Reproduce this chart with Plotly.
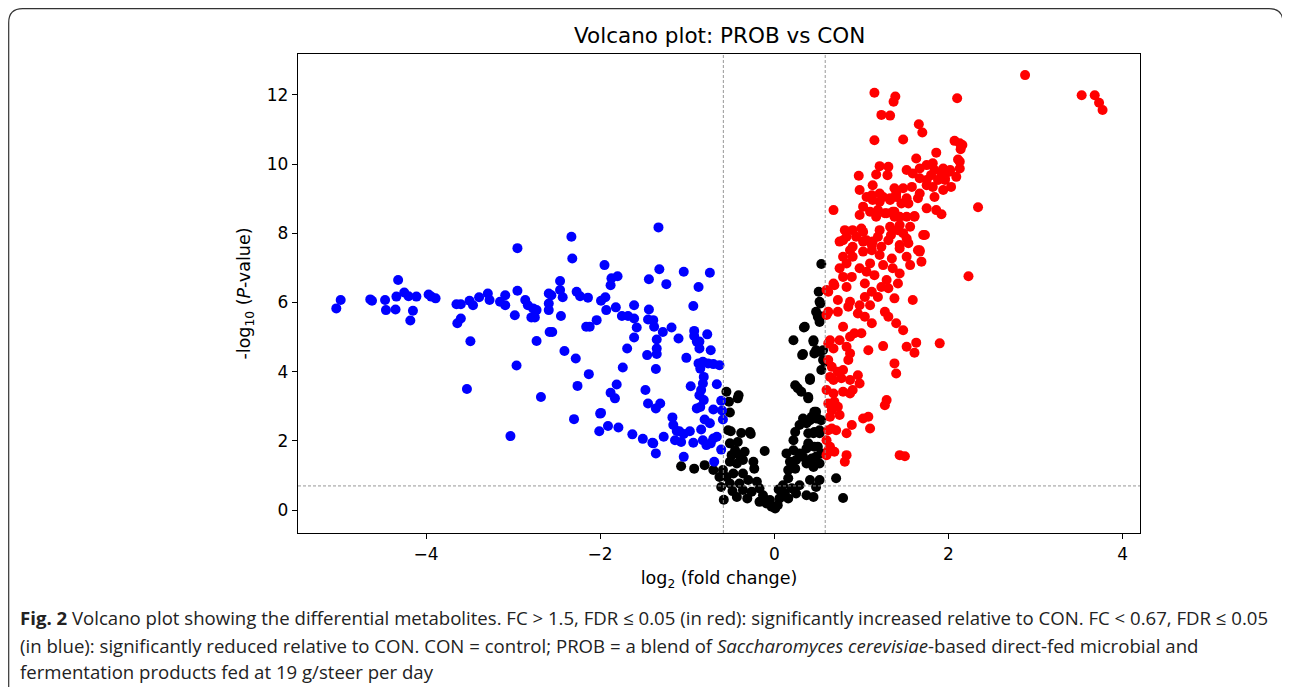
import plotly.graph_objects as go

# ---------------- data (log2 fold change, -log10 P) ----------------
down_points = [
    (-4.98, 6.07), (-5.03, 5.83), (-4.64, 6.09), (-4.62, 6.05), (-4.47, 6.07), (-4.46, 5.78),
    (-4.35, 5.80), (-4.34, 6.17), (-4.32, 6.65), (-4.25, 6.29), (-4.20, 6.18), (-4.11, 6.17),
    (-4.15, 5.76), (-4.18, 5.48), (-3.97, 6.23), (-3.94, 6.17), (-3.89, 6.12), (-3.65, 5.95),
    (-3.60, 5.95), (-3.60, 5.54), (-3.64, 5.40), (-3.50, 6.05), (-3.46, 5.92), (-3.39, 6.15),
    (-3.29, 6.26), (-3.27, 6.07), (-3.49, 4.88), (-3.53, 3.50), (-3.15, 6.02), (-3.09, 6.21),
    (-3.09, 5.92), (-2.95, 6.34), (-2.98, 5.63), (-2.96, 4.18), (-3.03, 2.14), (-2.95, 7.57),
    (-2.86, 6.07), (-2.83, 5.92), (-2.77, 5.83), (-2.73, 5.78), (-2.79, 5.57), (-2.75, 5.57),
    (-2.73, 4.89), (-2.68, 3.27), (-2.59, 6.26), (-2.59, 5.78), (-2.58, 5.15),
    (-2.33, 7.90), (-1.33, 8.17), (-2.32, 7.27), (-1.95, 7.08), (-1.32, 6.96), (-1.04, 6.89),
    (-0.74, 6.86), (-1.87, 6.70), (-1.80, 6.76), (-1.88, 6.50), (-1.44, 6.67), (-1.24, 6.53),
    (-0.87, 6.45), (-2.46, 6.62), (-2.46, 6.36), (-2.56, 6.21), (-2.43, 6.15), (-2.59, 5.97),
    (-2.45, 5.61), (-2.55, 5.15), (-2.27, 6.31), (-2.23, 6.18), (-2.14, 6.14), (-1.99, 6.05),
    (-1.94, 6.15), (-1.93, 5.78), (-1.82, 5.86), (-1.75, 5.61), (-1.68, 5.61), (-1.61, 5.92),
    (-1.61, 5.54), (-1.58, 5.28), (-1.61, 4.99), (-1.44, 5.80), (-1.45, 5.51), (-1.39, 5.49),
    (-1.38, 5.30), (-1.28, 5.15), (-1.18, 5.28), (-1.10, 4.96), (-1.35, 4.93), (-1.35, 4.67),
    (-1.35, 4.51), (-1.46, 4.48), (-1.36, 4.08), (-2.04, 5.49), (-2.16, 5.30), (-2.12, 5.30),
    (-1.69, 4.67), (-1.74, 4.12), (-2.41, 4.60), (-2.28, 4.38), (-2.13, 3.93), (-2.26, 3.59),
    (-1.81, 3.63), (-1.88, 3.39), (-1.83, 3.23), (-1.48, 3.47), (-1.45, 3.08), (-1.31, 3.08),
    (-1.36, 2.94), (-1.99, 2.81), (-2.00, 2.79), (-2.30, 2.63), (-1.91, 2.43), (-1.79, 2.39),
    (-2.01, 2.28), (-1.63, 2.19), (-1.51, 2.06), (-1.40, 1.95), (-1.39, 1.93), (-1.36, 1.64),
    (-1.27, 2.12), (-1.17, 2.68), (-1.16, 2.46), (-1.12, 2.29), (-1.09, 2.28), (-1.04, 2.20),
    (-1.14, 2.02), (-1.07, 1.97), (-1.04, 1.54), (-0.97, 2.28), (-0.96, 3.58), (-1.01, 4.40),
    (-0.93, 5.90), (-0.92, 5.18), (-0.92, 5.03), (-0.89, 4.87), (-0.86, 4.67), (-0.86, 4.87),
    (-0.77, 5.08), (-0.73, 4.62), (-0.87, 4.24), (-0.82, 4.29), (-0.76, 4.24), (-0.70, 4.22),
    (-0.63, 4.19), (-0.85, 4.09), (-0.81, 3.85), (-0.82, 3.66), (-0.66, 3.64), (-0.84, 3.47),
    (-0.86, 3.32), (-0.81, 3.18), (-0.89, 2.94), (-0.85, 2.98), (-0.70, 2.91), (-0.61, 3.16),
    (-0.60, 2.88), (-0.59, 2.62), (-0.80, 2.62), (-0.74, 2.51), (-0.84, 2.33), (-0.66, 2.12),
    (-0.93, 1.95), (-0.82, 2.02), (-0.78, 1.88), (-0.73, 1.93), (-0.70, 2.07), (-0.61, 1.75),
    (-0.69, 1.40),
]

ns_points = [
    (-1.07, 1.27), (-0.92, 1.20), (-0.80, 1.30), (-0.70, 1.16),
    (-0.55, 3.42), (-0.41, 3.32), (-0.42, 3.23), (-0.52, 3.13), (-0.51, 2.82), (-0.53, 2.31),
    (-0.50, 2.28), (-0.38, 2.23), (-0.28, 2.26), (-0.27, 2.20), (-0.51, 1.93), (-0.42, 1.97),
    (-0.45, 1.73), (-0.49, 1.59), (-0.40, 1.59), (-0.34, 1.69), (-0.51, 1.40), (-0.43, 1.35),
    (-0.36, 1.45), (-0.24, 1.40), (-0.23, 1.20), (-0.11, 1.71), (-0.59, 1.16), (-0.63, 0.96),
    (-0.55, 0.96), (-0.47, 1.06), (-0.36, 1.06), (-0.61, 0.67), (-0.51, 0.77), (-0.40, 0.77),
    (-0.30, 0.87), (-0.20, 0.82), (-0.43, 0.38), (-0.31, 0.34), (-0.36, 0.58), (-0.26, 0.53),
    (-0.17, 0.63), (-0.13, 0.43), (-0.17, 0.24), (-0.09, 0.19), (-0.03, 0.10), (0.01, 0.05),
    (0.04, 0.14), (-0.05, 0.29), (0.06, 0.34), (0.12, 0.48), (0.16, 0.34), (0.10, 0.72),
    (0.20, 0.63), (0.25, 0.48), (0.29, 0.72), (0.37, 0.43), (0.45, 0.38), (0.48, 0.67),
    (0.41, 0.87), (0.52, 0.87), (0.16, 0.92), (0.16, 1.16), (0.24, 1.20), (0.18, 1.40),
    (0.25, 1.45), (0.14, 1.64), (0.22, 1.73), (0.29, 1.64), (0.37, 1.35), (0.45, 1.25),
    (0.48, 1.54), (0.37, 1.78), (0.46, 1.83), (0.22, 2.02), (0.24, 2.26), (0.29, 2.46),
    (0.37, 2.51), (0.39, 2.22), (0.46, 2.26), (0.52, 2.22), (0.48, 2.65), (0.43, 2.70),
    (0.48, 2.84), (0.54, 2.60), (0.39, 3.27), (0.24, 3.61), (0.27, 3.52), (0.41, 3.81),
    (0.45, 4.91), (0.48, 4.62), (0.56, 4.62), (0.56, 4.34), (0.32, 4.48), (0.22, 4.91),
    (0.34, 5.28), (0.50, 5.59), (0.52, 5.44), (0.48, 5.73), (0.52, 6.02), (0.51, 6.31),
    (0.54, 7.11), (0.71, 0.92), (0.79, 0.35), (0.53, 5.97), (0.53, 5.60), (0.35, 5.30),
    (0.45, 4.87), (0.33, 4.51), (0.46, 4.53), (0.52, 4.58), (0.58, 4.29), (0.54, 4.05),
    (0.41, 3.76), (0.39, 3.23), (0.31, 3.42), (0.46, 2.84), (0.33, 2.65), (0.41, 2.60),
    (0.50, 2.65), (0.45, 2.22), (0.52, 2.31), (0.39, 1.93), (0.50, 1.83), (0.54, 1.64),
    (0.33, 1.54), (0.43, 1.49), (0.52, 1.35), (-0.58, 0.30), (-0.48, 0.55), (0.05, 0.60),
]

up_points = [
    (2.88, 12.57), (2.10, 11.90), (3.53, 11.99), (3.68, 11.99), (3.73, 11.77), (3.77, 11.56),
    (2.07, 10.67), (2.13, 10.60), (2.16, 10.55), (2.14, 10.43), (2.11, 10.13), (2.13, 10.07),
    (2.13, 9.87), (2.02, 9.83), (2.09, 9.63), (1.94, 9.87), (1.92, 9.68), (1.96, 9.54),
    (1.94, 9.25), (2.03, 9.34), (2.34, 8.75), (1.92, 8.55), (2.23, 6.76),
    (1.15, 12.06), (1.39, 11.95), (1.37, 11.80), (1.23, 11.42), (1.33, 11.40), (1.66, 11.15),
    (1.70, 10.91), (1.15, 10.69), (1.48, 10.71), (1.86, 10.33), (1.63, 10.16), (1.21, 9.94),
    (1.31, 9.92), (0.97, 9.66), (1.17, 9.70), (1.30, 9.68), (1.52, 9.83), (1.59, 9.73),
    (1.67, 9.87), (1.75, 9.97), (1.82, 10.02), (1.84, 9.83), (2.01, 9.78), (1.67, 9.59),
    (1.75, 9.54), (1.80, 9.68), (1.88, 9.54), (1.96, 9.59), (1.82, 9.34), (1.75, 9.39),
    (0.98, 9.25), (1.13, 9.39), (1.21, 9.15), (1.38, 9.30), (1.48, 9.30), (1.58, 9.34),
    (1.67, 9.15), (1.84, 9.05), (0.68, 8.67), (1.06, 9.05), (1.13, 8.96), (1.25, 9.05),
    (1.33, 8.96), (1.40, 9.05), (1.46, 8.86), (1.54, 8.86), (1.75, 8.72), (1.86, 8.67),
    (1.02, 8.77), (0.98, 8.53), (1.10, 8.62), (1.19, 8.67), (1.29, 8.58), (1.38, 8.62),
    (1.38, 8.48), (1.52, 8.48), (1.61, 8.50), (0.81, 8.09), (0.90, 8.09), (1.00, 8.14),
    (0.83, 7.90), (0.94, 7.90), (1.21, 8.09), (1.33, 8.19), (1.44, 8.24), (1.56, 8.19),
    (1.19, 7.90), (1.31, 7.80), (1.48, 8.00), (1.71, 7.95), (0.75, 7.76), (0.90, 7.61),
    (1.02, 7.76), (1.13, 7.76), (1.23, 7.61), (1.44, 7.66), (1.54, 7.71), (1.67, 7.51),
    (1.12, 9.10), (1.21, 8.91), (1.33, 9.01), (1.40, 9.15), (1.52, 9.01), (1.65, 9.01),
    (1.17, 8.48), (1.27, 8.58), (1.36, 8.62), (1.44, 8.48), (1.61, 8.48), (1.73, 7.95),
    (0.79, 7.80), (1.02, 8.04), (1.06, 7.80), (1.12, 7.66), (1.34, 7.95), (1.42, 8.09),
    (1.52, 7.85), (1.65, 7.51), (0.87, 7.51), (0.79, 7.32), (0.90, 7.32), (1.02, 7.47),
    (1.12, 7.51), (1.21, 7.37), (1.35, 7.27), (1.44, 7.56), (1.52, 7.32), (1.67, 7.47),
    (1.69, 7.18), (0.75, 6.99), (0.83, 7.13), (0.79, 6.74), (0.89, 6.74), (0.98, 6.99),
    (1.06, 6.89), (1.10, 7.13), (1.15, 6.79), (1.25, 7.08), (1.29, 6.65), (1.36, 6.99),
    (1.44, 6.84), (1.42, 6.55), (1.56, 7.08), (0.69, 6.50), (0.62, 6.31), (0.83, 6.45),
    (1.04, 6.55), (1.12, 6.31), (1.23, 6.45), (1.31, 6.41), (1.04, 6.16), (1.19, 6.16),
    (1.38, 6.12), (1.59, 6.07), (0.73, 6.07), (0.87, 6.02), (0.98, 5.92), (0.73, 5.73),
    (0.85, 5.88), (1.10, 5.92), (1.27, 5.73), (1.31, 5.59), (1.40, 5.40), (1.48, 5.20),
    (0.96, 5.68), (1.04, 5.59), (1.12, 5.40), (0.60, 5.64), (0.79, 5.30), (0.62, 4.82),
    (0.68, 4.67), (0.75, 4.91), (0.87, 5.01), (0.92, 5.11), (1.00, 5.11), (0.83, 4.72),
    (0.87, 4.53), (1.08, 4.62), (1.25, 4.74), (1.52, 4.72), (1.63, 4.84), (1.61, 4.55),
    (1.90, 4.82), (0.66, 4.14), (0.73, 4.00), (0.79, 4.05), (0.85, 4.34), (0.68, 3.76),
    (0.77, 3.81), (0.87, 3.76), (0.96, 3.90), (0.98, 3.66), (1.38, 4.24), (1.40, 3.95),
    (0.60, 3.47), (0.68, 3.37), (0.79, 3.42), (0.87, 3.37), (0.90, 3.47), (0.69, 3.13),
    (0.73, 2.99), (0.66, 2.89), (0.75, 2.75), (1.29, 3.18), (1.27, 3.03), (1.02, 2.65),
    (1.08, 2.70), (1.10, 2.36), (0.89, 2.46), (0.83, 2.22), (0.66, 2.36), (0.71, 2.31),
    (0.60, 2.02), (0.64, 1.83), (0.69, 1.69), (0.83, 1.59), (0.81, 1.40), (1.44, 1.59),
    (1.50, 1.56), (0.60, 1.59), (0.60, 6.36), (0.68, 6.55), (0.62, 5.73), (0.64, 4.91),
    (0.62, 4.34), (0.64, 3.85), (0.62, 3.08), (0.64, 2.70), (0.62, 2.31), (0.62, 1.73),
]

FC_UP = 0.585      # log2(1.5)
FC_DOWN = -0.585   # log2(0.67)
P_LINE = 0.7

caption_lines = [
    "<b>Fig. 2</b> Volcano plot showing the differential metabolites. FC > 1.5, FDR ≤ 0.05 (in red): significantly increased relative to CON. FC < 0.67, FDR ≤ 0.05",
    "(in blue): significantly reduced relative to CON. CON = control; PROB = a blend of <i>Saccharomyces cerevisiae</i>-based direct-fed microbial and",
    "fermentation products fed at 19 g/steer per day",
]

# ---------------- figure ----------------
# the page body has an 8px margin, so the figure is drawn 8px in from the corner
OFF = 8
W, H = 1290 - OFF, 687 - OFF
L, R, T, B = 298 - OFF, 1140 - OFF, 54 - OFF, 533 - OFF   # plot area in figure pixels
pw, ph = R - L, B - T


def px(xp):
    return (xp - OFF - L) / pw


def py(yp):
    return (B - (yp - OFF)) / ph


fig = go.Figure()
for pts, col in [(ns_points, "black"), (down_points, "blue"), (up_points, "red")]:
    fig.add_trace(go.Scatter(
        x=[p[0] for p in pts], y=[p[1] for p in pts], mode="markers",
        marker=dict(color=col, size=10, line=dict(width=0)),
        showlegend=False, hoverinfo="x+y",
    ))

dash = dict(color="#8c8c8c", width=0.9, dash="3px,2px")
fig.add_shape(type="line", xref="x", yref="paper", x0=FC_DOWN, x1=FC_DOWN, y0=0, y1=1, line=dash)
fig.add_shape(type="line", xref="x", yref="paper", x0=FC_UP, x1=FC_UP, y0=0, y1=1, line=dash)
fig.add_shape(type="line", xref="paper", yref="y", x0=0, x1=1, y0=P_LINE, y1=P_LINE, line=dash)

# outer rounded frame
x0, x1 = px(8.7), px(1283)
y1, y0 = py(8.7), py(720)
rx, ry = 14 / pw, 14 / ph
path = (f"M {x0+rx},{y1} L {x1-rx},{y1} Q {x1},{y1} {x1},{y1-ry} L {x1},{y0} "
        f"L {x0},{y0} L {x0},{y1-ry} Q {x0},{y1} {x0+rx},{y1} Z")
fig.add_shape(type="path", xref="paper", yref="paper", path=path,
              line=dict(color="#333333", width=1.2), fillcolor="rgba(0,0,0,0)")

# title
fig.add_annotation(text="Volcano plot: PROB vs CON", xref="paper", yref="paper",
                   x=0.5, y=py(35), xanchor="center", yanchor="middle", showarrow=False,
                   font=dict(family="DejaVu Sans", size=21.5, color="black"))

# caption
cap_y = [617, 645, 671]
for line, yy in zip(caption_lines, cap_y):
    fig.add_annotation(text=line, xref="paper", yref="paper", x=px(18), y=py(yy),
                       xanchor="left", yanchor="middle", showarrow=False,
                       font=dict(family="Open Sans, sans-serif", size=18.6, color="#222222"))

axis_common = dict(showline=True, linecolor="black", linewidth=1.3, mirror=True,
                   ticks="outside", ticklen=5, tickwidth=1.2, tickcolor="black",
                   showgrid=False, zeroline=False,
                   tickfont=dict(family="DejaVu Sans", size=17, color="black"))

fig.update_xaxes(range=[-5.47, 4.2], tickvals=[-4, -2, 0, 2, 4],
                 ticktext=["−4", "−2", "0", "2", "4"],
                 title=dict(text="log<sub>2</sub> (fold change)", standoff=9,
                            font=dict(family="DejaVu Sans", size=17.5, color="black")),
                 **axis_common)
fig.update_yaxes(range=[-0.66, 13.18], tickvals=[0, 2, 4, 6, 8, 10, 12],
                 title=dict(text="-log<sub>10</sub> (<i>P</i>-value)", standoff=11,
                            font=dict(family="DejaVu Sans", size=17.5, color="black")),
                 **axis_common)

fig.update_layout(width=W, height=H, margin=dict(l=L, r=W - R, t=T, b=H - B, pad=0),
                  plot_bgcolor="white", paper_bgcolor="white")

fig.write_html("out.html")
